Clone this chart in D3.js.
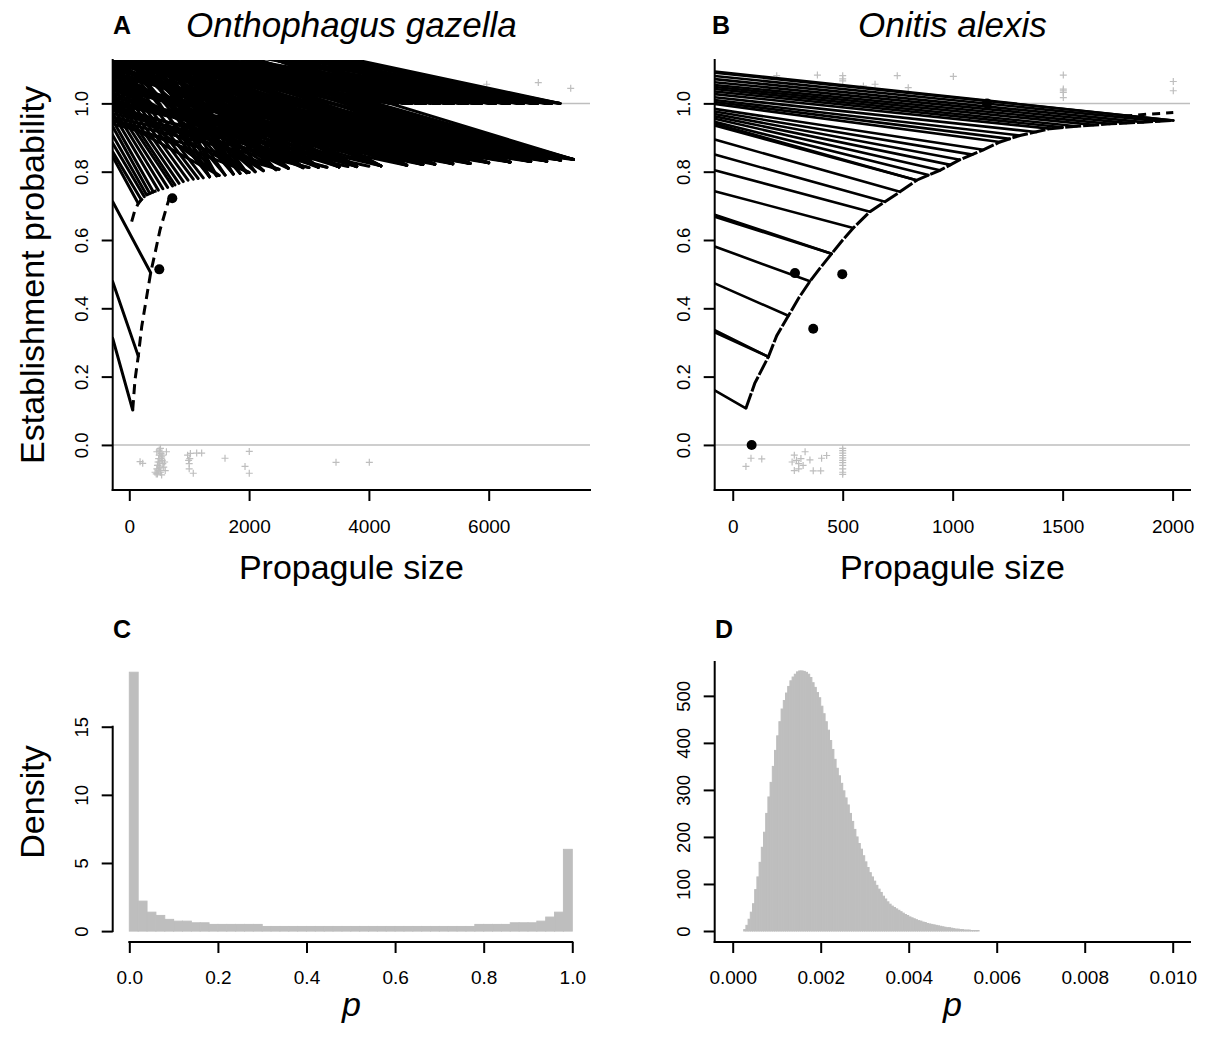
<!DOCTYPE html>
<html lang="en">
<head>
<meta charset="utf-8">
<script src="https://cdn.jsdelivr.net/npm/d3@7/dist/d3.min.js"></script>
<style>
body { margin: 0; background: #fff; }
svg text { font-family: "Liberation Sans", Arial, Helvetica, sans-serif; fill: #000; }
</style>
</head>
<body>
<script>
// ---- panel A data : Onthophagus gazella ----
// single lines: [propagule size at curve, probability at curve, probability where the line meets the left edge]
var aSteepLines = [[57,0.102,0.312],[150,0.26,0.478],[357,0.504,0.712]];
var aNearLines = [
  [150,0.707,0.844],[200,0.718,0.858],[250,0.727,0.883],[290,0.732,0.907],[340,0.737,0.932],
  [400,0.741,0.951],[484,0.746,0.971],[560,0.750,0.99],[640,0.754,1.005],[720,0.758,1.02],
  [763,0.761,1.035],[830,0.766,1.05],[901,0.771,1.065],[980,0.775,1.08],[1068,0.778,1.095],
  [1150,0.780,1.11],[1235,0.782,1.125]
];
// bundles: [propagule size at curve, probability at curve, [left-edge probabilities]]
var aFanEnds = [
  [1340,0.785,[1.14,1.2,1.3]],
  [1459,0.788,[1.16,1.25,1.35]],
  [1500,0.789,[0.96,1.02]],
  [1600,0.790,[1.18,1.28]],
  [1736,0.793,[1.2,1.3,1.4]],
  [1850,0.795,[1.22,1.32]],
  [1960,0.797,[1.14,1.24,1.34]],
  [2000,0.798,[0.95,1.0]],
  [2100,0.800,[1.16,1.26,1.36]],
  [2237,0.803,[1.067,1.17,1.28]],
  [2450,0.806,[1.10,1.2,1.30]],
  [2500,0.807,[0.94,0.99]],
  [2654,0.810,[1.05,1.143,1.23,1.32]],
  [2900,0.812,[1.04,1.09,1.17,1.25,1.33]],
  [3000,0.812,[0.95,0.98]],
  [3156,0.813,[1.03,1.08,1.144,1.22,1.30]],
  [3300,0.813,[0.96,0.99]],
  [3500,0.814,[1.02,1.07,1.112,1.17,1.22,1.28]],
  [3650,0.815,[0.97]],
  [3796,0.815,[1.01,1.06,1.11,1.172,1.22,1.27]],
  [4000,0.816,[0.98]],
  [4200,0.817,[1.0,1.05,1.115,1.16,1.21,1.245]],
  [4631,0.819,[1.0,1.06,1.11,1.16,1.2,1.24]],
  [4900,0.821,[1.0,1.05,1.09,1.14,1.18,1.22]],
  [5100,0.822,[1.0,1.06,1.12,1.16,1.199,1.24]],
  [5400,0.823,[1.0,1.05,1.10,1.14,1.17,1.21]],
  [5688,0.824,[1.0,1.04,1.09,1.136,1.18,1.21,1.24]],
  [6000,0.826,[1.0,1.05,1.09,1.13,1.18,1.22]],
  [6356,0.828,[1.0,1.04,1.08,1.12,1.15,1.19,1.212,1.24]],
  [6700,0.830,[1.0,1.04,1.08,1.12,1.16,1.19,1.21,1.235]],
  [6968,0.831,[1.0,1.04,1.08,1.12,1.17,1.20,1.225,1.24]],
  [7200,0.834,[1.0,1.04,1.08,1.12,1.16,1.19,1.21,1.23]],
  [7415,0.836,[1.0,1.04,1.08,1.12,1.17,1.20,1.22,1.247]]
];
var aTopEnds = [
  [4351,1,[1.12,1.17,1.22,1.27,1.31]],
  [4570,1,[1.13,1.19,1.25]],
  [4798,1,[1.12,1.16,1.2,1.24,1.275,1.294]],
  [5030,1,[1.14,1.2,1.26]],
  [5270,1,[1.12,1.17,1.21,1.25,1.275,1.292]],
  [5500,1,[1.15,1.21,1.27]],
  [5744,1,[1.12,1.16,1.2,1.24,1.285]],
  [6000,1,[1.14,1.2,1.275]],
  [6244,1,[1.12,1.17,1.22,1.27,1.286]],
  [6480,1,[1.15,1.21,1.278]],
  [6719,1,[1.12,1.17,1.22,1.26,1.282]],
  [6950,1,[1.15,1.21,1.279]],
  [7190,1,[1.12,1.17,1.22,1.255,1.279]]
];
var aSteepCurveX = [57, 95, 150, 207, 290, 357, 429, 512, 624, 708];
var aSteepCurveY = [0.102, 0.19, 0.26, 0.346, 0.434, 0.504, 0.561, 0.629, 0.697, 0.746];
var aFlatCurveX = [40, 90, 150, 200, 290, 400, 484];
var aFlatCurveY = [0.654, 0.685, 0.707, 0.718, 0.732, 0.741, 0.746];
var aTopCurveX = [4351, 7190];
var aTopCurveY = [1, 1];
var aDotsX = [501, 718];
var aDotsY = [0.514, 0.722];
var aFails = [[180,-0.049],[224,-0.054],[430,-0.08],[450,-0.085],[460,-0.07],[470,-0.06],[480,-0.05],
  [490,-0.04],[500,-0.03],[500,-0.015],[510,-0.02],[520,-0.01],[530,-0.025],[540,-0.035],[550,-0.045],
  [560,-0.055],[575,-0.065],[600,-0.075],[620,-0.02],[460,-0.02],[480,-0.06],[500,-0.07],[520,-0.08],
  [540,-0.088],[470,-0.085],[500,-0.05],[530,-0.04],[560,-0.03],[490,-0.075],[510,-0.065],[590,-0.05],
  [973,-0.03],[990,-0.045],[1000,-0.055],[1000,-0.07],[1010,-0.04],[1020,-0.025],[1068,-0.083],
  [1125,-0.024],[1208,-0.024],[1598,-0.039],[2003,-0.019],[1932,-0.063],[2003,-0.083],[3451,-0.051],[4007,-0.051]];
var aSuccess = [[5967,1.056],[6828,1.061],[7369,1.044]];
var aXTicks = [0, 2000, 4000, 6000];

// ---- panel B data : Onitis alexis ----
var bLines = [
  [60,0.107,0.16],[162,0.258,0.33],[162,0.258,0.336],[253,0.378,0.473],[351,0.479,0.581],
  [450,0.56,0.668],[450,0.56,0.674],[548,0.635,0.743],[624,0.683,0.804],[692,0.712,0.850],
  [760,0.741,0.894],[836,0.775,0.935],[836,0.775,0.941],[890,0.790,0.946],[942,0.804,0.955],
  [990,0.820,0.962],[1033,0.835,0.969],[1090,0.850,0.976],[1139,0.864,0.984],[1215,0.887,0.998],
  [1260,0.896,1.004],[1306,0.906,1.010],[1380,0.916,1.018],[1443,0.926,1.027],[1500,0.930,1.035],
  [1563,0.933,1.042],[1640,0.937,1.048],[1715,0.940,1.054],[1790,0.943,1.062],[1866,0.945,1.071],
  [1940,0.948,1.08],[2003,0.950,1.090],[2003,0.950,1.093]
];
var bCurveX = [60,100,162,200,253,300,351,400,450,500,548,624,692,760,836,890,942,1033,1139,1215,1306,1443,1563,1715,1866,2003];
var bCurveY = [0.107,0.18,0.258,0.32,0.378,0.43,0.479,0.52,0.56,0.60,0.635,0.683,0.712,0.741,0.775,0.79,0.804,0.835,0.864,0.887,0.906,0.926,0.933,0.94,0.945,0.95];
var bTopCurveX = [1780, 1880, 2003];
var bTopCurveY = [0.962, 0.968, 0.973];
var bDotsX = [86, 283, 498, 366, 1156];
var bDotsY = [0, 0.503, 0.5, 0.34, 1.0];
var bFails = [[83,-0.039],[132,-0.041],[60,-0.063],[270,-0.05],[280,-0.03],[290,-0.045],[300,-0.055],
  [300,-0.07],[310,-0.04],[320,-0.06],[280,-0.075],[329,-0.02],[351,-0.044],[404,-0.039],[427,-0.031],
  [366,-0.076],[400,-0.076],[500,-0.01],[500,-0.017],[500,-0.024],[500,-0.031],[500,-0.038],[500,-0.045],
  [500,-0.052],[500,-0.06],[500,-0.07],[500,-0.08],[500,-0.086]];
var bSuccess = [[200,1.081],[270,1.06],[385,1.083],[500,1.081],[500,1.072],[500,1.066],[594,1.051],
  [647,1.056],[748,1.081],[798,1.046],[1003,1.079],[1503,1.083],[1503,1.042],[1503,1.037],[1503,1.032],
  [1503,1.017],[2003,1.064],[2003,1.037]];
var bXTicks = [0, 500, 1000, 1500, 2000];
var probTicks = [0, 0.2, 0.4, 0.6, 0.8, 1.0];

// ---- panel C data : histogram of p, bins of 0.02 ----
var cBinStart = 0, cBinWidth = 0.02;
var cDensity = [19.0, 2.2, 1.39, 1.15, 0.86, 0.73, 0.73, 0.61, 0.61, 0.49, 0.49, 0.49, 0.49, 0.49, 0.49,
  0.34, 0.34, 0.34, 0.34, 0.34, 0.34, 0.34, 0.34, 0.34, 0.34, 0.34, 0.34, 0.34, 0.34, 0.34, 0.34,
  0.34, 0.34, 0.34, 0.34, 0.34, 0.34, 0.34, 0.34, 0.49, 0.49, 0.49, 0.49, 0.61, 0.61, 0.61, 0.73,
  1.03, 1.39, 6.0, 0];
var cXTicks = [0, 0.2, 0.4, 0.6, 0.8, 1.0];
var cYTicks = [0, 5, 10, 15];

// ---- panel D data : histogram of p, bins of 0.00005 ----
var dBinStart = 0, dBinWidth = 0.00005;
var dDensity = [
  0, 0, 0, 0, 0, 3, 12, 25, 40, 58,
  88, 115, 146, 178, 210, 250, 285, 316, 350, 384,
  415, 445, 472, 490, 506, 520, 532, 540, 546, 551,
  553, 553, 552, 550, 546, 539, 528, 518, 507, 496,
  478, 462, 445, 427, 405, 386, 365, 346, 330, 314,
  298, 283, 268, 250, 233, 216, 200, 186, 174, 160,
  147, 135, 124, 115, 106, 97, 89, 82, 74, 68,
  62, 57, 53, 50, 47, 44, 41, 38, 35, 33,
  30, 28, 26, 24, 22, 21, 19, 18, 16, 15,
  14, 13, 12, 11, 10, 9, 8, 7, 7, 6,
  5, 4, 4, 3, 3, 2, 2, 2, 1, 1,
  1, 1, 0, 0, 0, 0, 0, 0, 0, 0,
  0, 0, 0, 0, 0, 0, 0, 0, 0, 0,
  0, 0, 0, 0, 0, 0, 0, 0, 0, 0,
  0, 0, 0, 0, 0, 0, 0, 0, 0, 0,
  0, 0, 0, 0, 0, 0, 0, 0, 0, 0,
  0, 0, 0, 0, 0, 0, 0, 0, 0, 0,
  0, 0, 0, 0, 0, 0, 0, 0, 0, 0,
  0, 0, 0, 0, 0, 0, 0, 0, 0, 0,
  0, 0, 0, 0, 0, 0, 0, 0, 0, 0];
var dXTicks = [0, 0.002, 0.004, 0.006, 0.008, 0.010];
var dYTicks = [0, 100, 200, 300, 400, 500];

// ---- layout ----
var grey = "#bebebe";
var boxA = {l: 112.7, r: 590, t: 60, b: 490};
var boxB = {l: 714.7, r: 1190, t: 60, b: 490};
var boxC = {l: 112.7, r: 590, t: 662, b: 942};
var boxD = {l: 714.7, r: 1190, t: 662, b: 942};

var svg = d3.select("body").append("svg")
    .attr("width", 1208)
    .attr("height", 1037);

var xA = d3.scaleLinear().domain([-277, 7691]).range([boxA.l, boxA.r]);
var yA = d3.scaleLinear().domain([-0.132, 1.127]).range([boxA.b, boxA.t]);
var xB = d3.scaleLinear().domain([-82, 2079]).range([boxB.l, boxB.r]);
var yB = d3.scaleLinear().domain([-0.132, 1.127]).range([boxB.b, boxB.t]);
var xC = d3.scaleLinear().domain([-0.0375, 1.04]).range([boxC.l, boxC.r]);
var yC = d3.scaleLinear().domain([-0.8, 19.75]).range([boxC.b, boxC.t]);
var xD = d3.scaleLinear().domain([-0.000409, 0.010393]).range([boxD.l, boxD.r]);
var yD = d3.scaleLinear().domain([-23.4, 572]).range([boxD.b, boxD.t]);

// expand bundles into single lines
function unbundle(ends) {
    var out = [];
    ends.forEach(function(e){
        e[2].forEach(function(l){ out.push([e[0], e[1], l]); });
    });
    return out;
}

function clipFor(id, box) {
    svg.append("clipPath").attr("id", id)
        .append("rect")
        .attr("x", box.l).attr("y", box.t)
        .attr("width", box.r - box.l).attr("height", box.b - box.t);
    return svg.append("g").attr("clip-path", "url(#" + id + ")");
}

// gray reference lines at 0 and 1, jittered observations, fan lines, curves, dots
function drawEstablishment(g, x, y, fails, success, lines, lineWidth, curves, dotsX, dotsY) {
    g.selectAll(".ref").data([0, 1]).enter().append("line")
        .attr("x1", x.range()[0]).attr("x2", x.range()[1])
        .attr("y1", function(d){ return y(d); }).attr("y2", function(d){ return y(d); })
        .attr("stroke", grey).attr("stroke-width", 1.5);

    var cross = "M-3.5,0H3.5M0,-3.5V3.5";
    g.selectAll(".obs").data(fails.concat(success)).enter().append("path")
        .attr("d", cross)
        .attr("transform", function(d){ return "translate(" + x(d[0]) + "," + y(d[1]) + ")"; })
        .attr("stroke", grey).attr("stroke-width", 1.2).attr("fill", "none");

    var leftX = x.domain()[0];
    g.append("g").selectAll("line").data(lines).enter().append("line")
        .attr("x1", function(d){ return x(d[0]); })
        .attr("y1", function(d){ return y(d[1]); })
        .attr("x2", x(leftX))
        .attr("y2", function(d){ return y(d[2]); })
        .attr("stroke", "#000").attr("stroke-width", lineWidth).attr("stroke-linecap", "round");

    var line = d3.line().x(function(d){ return x(d[0]); }).y(function(d){ return y(d[1]); });
    curves.forEach(function(c){
        var pts = c.xs.map(function(v, i){ return [v, c.ys[i]]; });
        g.append("path").attr("d", line(pts))
            .attr("fill", "none").attr("stroke", "#000")
            .attr("stroke-width", 3).attr("stroke-dasharray", c.dash);
    });

    g.selectAll(".dot").data(dotsX).enter().append("circle")
        .attr("cx", function(d){ return x(d); })
        .attr("cy", function(d, i){ return y(dotsY[i]); })
        .attr("r", 5).attr("fill", "#000");
}

function histogram(x, y, start, width, dens) {
    svg.append("g").selectAll("rect").data(dens).enter().append("rect")
        .attr("x", function(d, i){ return x(start + i * width); })
        .attr("width", function(d, i){ return x(start + (i + 1) * width) - x(start + i * width); })
        .attr("y", function(d){ return y(d); })
        .attr("height", function(d){ return y(0) - y(d); })
        .attr("fill", grey).attr("stroke", grey).attr("stroke-width", 1);
}

function leftAxis(x0, y, ticks, fmt) {
    var ax = svg.append("g").attr("transform", "translate(" + x0 + ",0)")
        .call(d3.axisLeft(y).tickValues(ticks).tickFormat(fmt).tickSize(11).tickSizeOuter(0));
    ax.select(".domain").remove();
    ax.selectAll(".tick line").attr("stroke", "#000").attr("stroke-width", 2);
    ax.selectAll(".tick text")
        .attr("transform", "rotate(-90)")
        .attr("x", 0).attr("y", -25).attr("dy", null)
        .attr("text-anchor", "middle")
        .style("font-size", "18.5px");
}

function bottomAxis(y0, x, ticks, fmt, labelOffset) {
    var ax = svg.append("g").attr("transform", "translate(0," + y0 + ")")
        .call(d3.axisBottom(x).tickValues(ticks).tickFormat(fmt).tickSize(11).tickSizeOuter(0));
    ax.select(".domain").remove();
    ax.selectAll(".tick line").attr("stroke", "#000").attr("stroke-width", 2);
    ax.selectAll(".tick text")
        .attr("y", labelOffset).attr("dy", null)
        .style("font-size", "19px");
}

function segment(x1, y1, x2, y2) {
    svg.append("line").attr("x1", x1).attr("y1", y1).attr("x2", x2).attr("y2", y2)
        .attr("stroke", "#000").attr("stroke-width", 2).attr("stroke-linecap", "square");
}

function label(txt, x, y, size, style, weight, rotate) {
    var t = svg.append("text")
        .attr("text-anchor", style === "start" ? "start" : "middle")
        .style("font-size", size + "px")
        .text(txt);
    if (weight) t.style("font-weight", weight);
    if (style === "italic") t.style("font-style", "italic");
    if (rotate) t.attr("transform", "translate(" + x + "," + y + ") rotate(-90)");
    else t.attr("x", x).attr("y", y);
    return t;
}

// ---- panel A ----
var gA = clipFor("clipA", boxA);
drawEstablishment(gA, xA, yA, aFails, aSuccess,
    aSteepLines.concat(aNearLines, unbundle(aFanEnds), unbundle(aTopEnds)), 3,
    [{xs: aSteepCurveX, ys: aSteepCurveY, dash: "10,6"},
     {xs: aFlatCurveX, ys: aFlatCurveY, dash: "10,6"},
     {xs: aTopCurveX, ys: aTopCurveY, dash: "9,5"}],
    aDotsX, aDotsY);

// ---- panel B ----
var gB = clipFor("clipB", boxB);
drawEstablishment(gB, xB, yB, bFails, bSuccess, bLines, 2.6,
    [{xs: bCurveX, ys: bCurveY, dash: "16,2"},
     {xs: bTopCurveX, ys: bTopCurveY, dash: "8,6"}],
    bDotsX, bDotsY);

// ---- panels C, D ----
histogram(xC, yC, cBinStart, cBinWidth, cDensity);
histogram(xD, yD, dBinStart, dBinWidth, dDensity);

// ---- axes ----
var f1 = d3.format(".1f");
segment(boxA.l, boxA.t, boxA.l, boxA.b); segment(boxA.l, boxA.b, boxA.r, boxA.b);
leftAxis(boxA.l, yA, probTicks, f1);
bottomAxis(boxA.b, xA, aXTicks, d3.format("d"), 43);

segment(boxB.l, boxB.t, boxB.l, boxB.b); segment(boxB.l, boxB.b, boxB.r, boxB.b);
leftAxis(boxB.l, yB, probTicks, f1);
bottomAxis(boxB.b, xB, bXTicks, d3.format("d"), 43);

segment(boxC.l, yC(cYTicks[0]), boxC.l, yC(cYTicks[cYTicks.length - 1]));
segment(xC(cXTicks[0]), boxC.b, xC(cXTicks[cXTicks.length - 1]), boxC.b);
leftAxis(boxC.l, yC, cYTicks, d3.format("d"));
bottomAxis(boxC.b, xC, cXTicks, f1, 42);

segment(boxD.l, boxD.t, boxD.l, boxD.b); segment(boxD.l, boxD.b, boxD.r, boxD.b);
leftAxis(boxD.l, yD, dYTicks, d3.format("d"));
bottomAxis(boxD.b, xD, dXTicks, d3.format(".3f"), 42);

// ---- titles and labels ----
var midA = (boxA.l + boxA.r) / 2, midB = (boxB.l + boxB.r) / 2;
label("A", 113, 34, 25, "start", "bold");
label("Onthophagus gazella", midA, 37, 35, "italic");
label("B", 712, 34, 25, "start", "bold");
label("Onitis alexis", midB, 37, 35, "italic");
label("Establishment probability", 44, (boxA.t + boxA.b) / 2, 34, null, null, true);
label("Propagule size", midA, 579, 34);
label("Propagule size", midB, 579, 34);
label("C", 113, 638, 25, "start", "bold");
label("D", 715, 638, 25, "start", "bold");
label("Density", 44, (boxC.t + boxC.b) / 2, 34, null, null, true);
label("p", midA, 1016, 34, "italic");
label("p", midB, 1016, 34, "italic");
</script>
</body>
</html>
